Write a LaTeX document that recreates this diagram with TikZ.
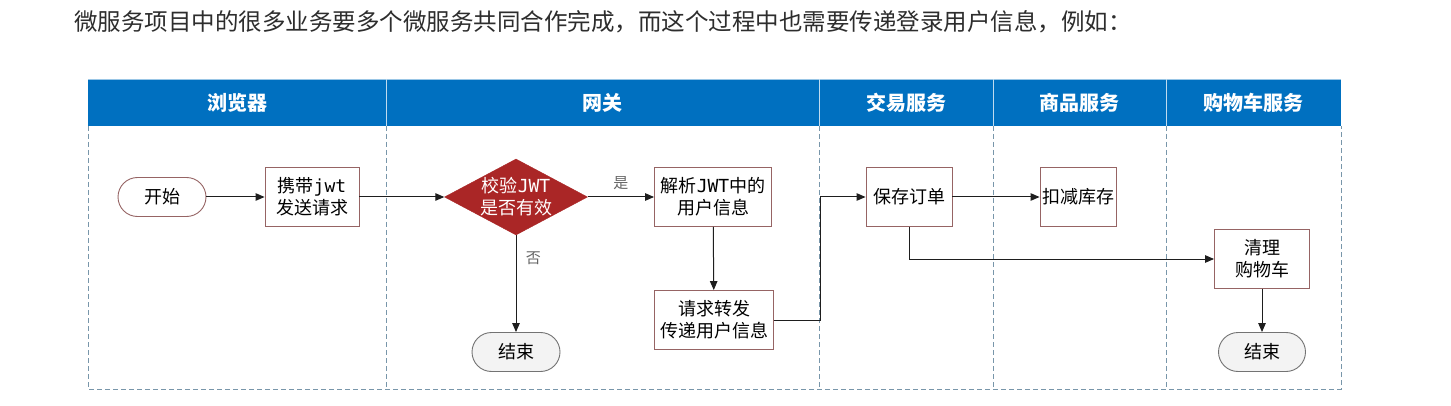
\documentclass[tikz,border=0pt]{standalone}
\usepackage{fontspec}
\setmainfont{Noto Sans CJK SC}
\setmonofont{DejaVu Sans Mono}
\usetikzlibrary{shapes.geometric,arrows.meta}
\definecolor{hdrblue}{RGB}{0,112,192}
\definecolor{procborder}{RGB}{150,100,100}
\definecolor{dia}{RGB}{170,38,38}
\definecolor{dashc}{RGB}{120,150,170}
\definecolor{titlegray}{RGB}{45,45,45}
\definecolor{endfill}{RGB}{243,243,243}
\definecolor{lnc}{RGB}{30,30,30}
\tikzset{
  ntext/.style={font=\fontsize{18}{22}\selectfont, text=black, align=center},
  proc/.style={ntext, draw=procborder, fill=white, line width=0.9pt, inner sep=0pt},
  term/.style={ntext, rounded corners=19.5pt, minimum width=88pt, minimum height=39pt, line width=0.9pt, inner sep=0pt},
  hdr/.style={font=\bfseries\fontsize{20}{22}\selectfont, text=white},
  arr/.style={draw=lnc, line width=1pt, -{Triangle[length=9pt,width=7.5pt]}},
  lbl/.style={font=\fontsize{15}{17}\selectfont, text=black!60},
  dsh/.style={draw=dashc, line width=0.9pt, dash pattern=on 5pt off 3pt}
}
\begin{document}
\begin{tikzpicture}[x=1pt,y=-1pt]
\useasboundingbox (0,0) rectangle (1451,406);
\fill[white] (0,0) rectangle (1451,406);
\node[anchor=west, text=titlegray, font=\fontsize{23.5}{26}\selectfont, inner sep=0pt] (title) at (74,22) {微服务项目中的很多业务要多个微服务共同合作完成，而这个过程中也需要传递登录用户信息，例如：};
% header band
\fill[hdrblue] (88,79) rectangle (1341,126);
\draw[draw=hdrblue!40, line width=0.8pt] (88,79) -- (1341,79);
\foreach \x in {386,819,993,1166} {\draw[white!75!hdrblue, line width=0.9pt] (\x,79) -- (\x,126);}
% body lanes
\draw[dsh] (88,126) -- (88,389) -- (1341,389) -- (1341,126);
\foreach \x in {386,819,993,1166} {\draw[dsh] (\x,126) -- (\x,389);}
\node[hdr] (h1) at (237,103) {浏览器};
\node[hdr] (h2) at (602,103) {网关};
\node[hdr] (h3) at (906,103) {交易服务};
\node[hdr] (h4) at (1079,103) {商品服务};
\node[hdr] (h5) at (1253,103) {购物车服务};
% nodes
\node[term, draw=procborder, fill=white] (start) at (162,197) {开始};
\node[proc, minimum width=94pt, minimum height=59pt] (req) at (312,197) {携带\texttt{jwt}\\发送请求};
\node[diamond, fill=dia, draw=dia, minimum width=143pt, minimum height=76pt, aspect=1.88, inner sep=0pt] (chk) at (516,197) {};
\node[ntext, text=white] (chkt) at (516,197) {校验\texttt{JWT}\\是否有效};
\node[proc, minimum width=117pt, minimum height=59pt] (parse) at (713,197) {解析\texttt{JWT}中的\\用户信息};
\node[term, draw=black!55, fill=endfill] (end1) at (516,352) {结束};
\node[proc, minimum width=119pt, minimum height=59pt] (fwd) at (714,320) {请求转发\\传递用户信息};
\node[proc, minimum width=86pt, minimum height=59pt] (save) at (909,197) {保存订单};
\node[proc, minimum width=76pt, minimum height=59pt] (stock) at (1078,197) {扣减库存};
\node[proc, minimum width=95pt, minimum height=59pt] (clean) at (1262,259) {清理\\购物车};
\node[term, draw=black!55, fill=endfill, minimum width=87pt] (end2) at (1262,352) {结束};
\coordinate (jog) at (820,0);
% connectors
\draw[arr] (start) -- (req);
\draw[arr] (req) -- (chk);
\draw[arr] (chk) -- node[lbl, above=3pt] (yes) {是} (parse);
\draw[arr] (chk) -- node[lbl, pos=0.24, right=6pt] (no) {否} (end1);
\draw[arr] (parse) -- (fwd);
\draw[arr] (fwd.east) -- (fwd.east -| jog) -- (jog |- save.west) -- (save.west);
\draw[arr] (save) -- (stock);
\draw[arr] (save.south) |- (clean.west);
\draw[arr] (clean) -- (end2);
\end{tikzpicture}
\end{document}
